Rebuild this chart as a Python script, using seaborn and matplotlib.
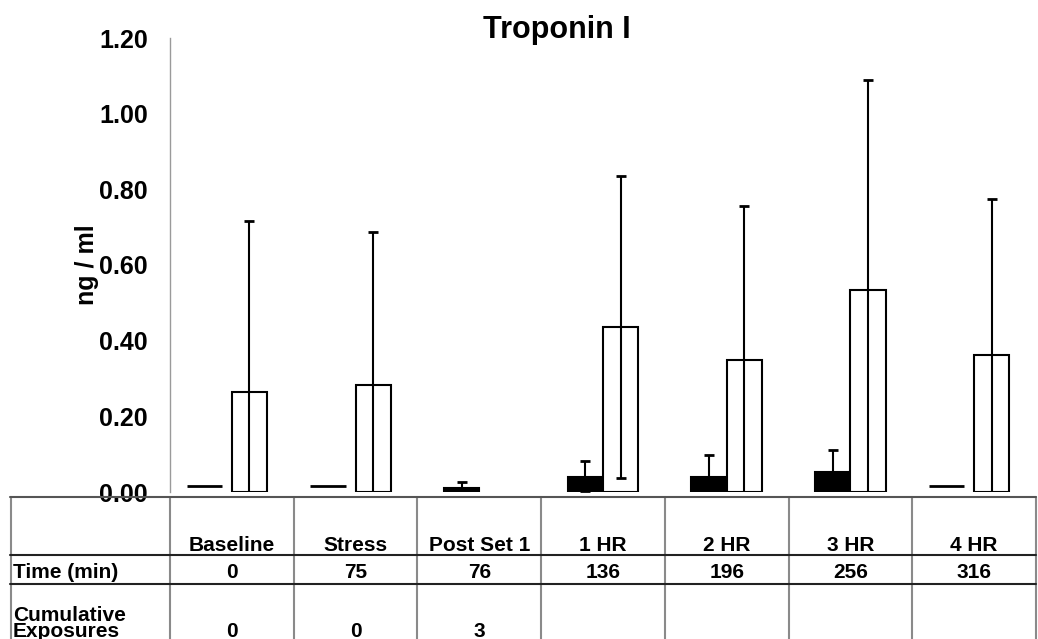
import numpy as np
import pandas as pd
import matplotlib
matplotlib.use("Agg")
import matplotlib.pyplot as plt
import matplotlib.transforms as mtransforms
from matplotlib.lines import Line2D
from matplotlib.ticker import FormatStrFormatter
import seaborn as sns

# data
periods = ["Baseline", "Stress", "Post Set 1", "1 HR", "2 HR", "3 HR", "4 HR"]
time_min = ["0", "75", "76", "136", "196", "256", "316"]
cum_exposures = ["0", "0", "3", "", "", "", ""]

dark_mean = [0.016, 0.016, 0.011, 0.040, 0.040, 0.052, 0.016]
dark_sd = [np.nan, np.nan, 0.016, 0.043, 0.058, 0.060, np.nan]
light_mean = [0.265, 0.283, np.nan, 0.436, 0.348, 0.535, 0.361]
light_sd = [0.451, 0.405, np.nan, 0.400, 0.408, 0.553, 0.413]

series_names = ["dark", "light"]

df = pd.DataFrame({
    "period": periods * 2,
    "value": dark_mean + light_mean,
    "sd": dark_sd + light_sd,
    "series": [series_names[0]] * len(periods) + [series_names[1]] * len(periods),
})
plot_df = df.dropna(subset=["value"])

sns.set_style("white")
plt.rcParams["font.family"] = ["Liberation Sans", "DejaVu Sans"]
plt.rcParams["font.weight"] = "bold"
plt.rcParams["text.color"] = "black"
plt.rcParams["axes.labelcolor"] = "black"
plt.rcParams["ytick.color"] = "black"

W, H = 1038, 639
fig = plt.figure(figsize=(W / 100, H / 100), dpi=100)

def fx(x):
    return x / W

def fy(y):
    return 1 - y / H

ax = fig.add_axes([fx(170), fy(492), fx(866), 454 / H])

sns.barplot(data=plot_df, x="period", y="value", hue="series",
            order=periods, hue_order=series_names,
            palette=["black", "white"], edgecolor="black", linewidth=1.5,
            width=0.57, errorbar=None, legend=False, ax=ax)

# error bars / flat markers, placed from the drawn bars
for name, cont in zip(series_names, ax.containers):
    sub = df[df.series == name].set_index("period")
    for bar in cont:
        cx = bar.get_x() + bar.get_width() / 2
        idx = int(round(cx))
        val = sub.loc[periods[idx], "value"]
        sd = sub.loc[periods[idx], "sd"]
        if np.isnan(sd):
            bar.set_visible(False)
            ax.hlines(val, bar.get_x() - 0.08, bar.get_x() + bar.get_width() - 0.08,
                      color="black", lw=2, zorder=3)
        else:
            ax.errorbar(cx, val, yerr=sd, fmt="none", ecolor="black",
                        elinewidth=1.5, capsize=3.5, capthick=2, zorder=3)

ax.set_ylim(0, 1.2)
ax.set_xlim(-0.5, len(periods) - 0.5)
ax.set_yticks(np.arange(0, 1.21, 0.2))
ax.yaxis.set_major_formatter(FormatStrFormatter("%.2f"))
ax.tick_params(axis="y", length=0, pad=16, labelsize=18, labelcolor="black")
ax.set_xticks([])
ax.set_xlabel("")
ax.set_ylabel("ng / ml", fontsize=18, fontweight="bold", color="black")
ax.yaxis.set_label_coords(-0.082, 0.5)
sns.despine(ax=ax, bottom=True)
ax.spines["left"].set_color("#9a9a9a")
ax.spines["left"].set_linewidth(1)

fig.text(fx(557), fy(38), "Troponin I", ha="center", va="baseline",
         fontsize=22, fontweight="bold")

# table under the plot
trans = mtransforms.blended_transform_factory(ax.transData, fig.transFigure)
for k in range(len(periods) + 1):
    fig.add_artist(Line2D([k - 0.5, k - 0.5], [fy(497), 0], transform=trans,
                          color="#8a8a8a", lw=1.5))
fig.add_artist(Line2D([fx(11), fx(11)], [fy(497), 0], color="#8a8a8a", lw=1.5))
for y, c in [(497, "#555555"), (555, "#222222"), (584, "#222222")]:
    fig.add_artist(Line2D([fx(10), fx(1036)], [fy(y), fy(y)], color=c, lw=1.5))

for i, p in enumerate(periods):
    fig.text(i, fy(551), p, transform=trans, ha="center", va="baseline", fontsize=15)
    fig.text(i, fy(578), time_min[i], transform=trans, ha="center", va="baseline", fontsize=15)
    fig.text(i, fy(637), cum_exposures[i], transform=trans, ha="center", va="baseline", fontsize=15)

fig.text(fx(13), fy(578), "Time (min)", ha="left", va="baseline", fontsize=15)
fig.text(fx(13), fy(637), "Cumulative\nExposures", ha="left", va="baseline",
         fontsize=15, linespacing=0.8)

plt.savefig("out.png", dpi=100)
